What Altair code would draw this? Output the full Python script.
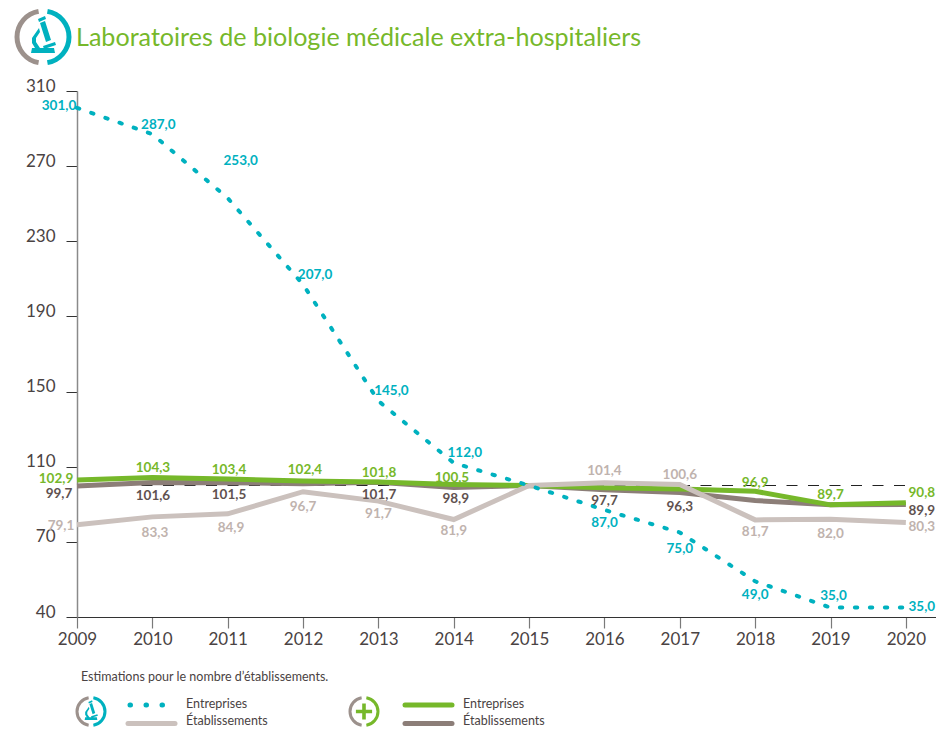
import altair as alt
import pandas as pd

FONT = "Lato"
TEAL = "#00B1BF"
GREEN = "#76B82A"
LIGHT = "#CBC1BD"
BROWN = "#8C7E78"
LIGHT_TXT = "#BFB3AE"
DARK_TXT = "#5F5250"
RING = "#9C918C"

years = [2009, 2010, 2011, 2012, 2013, 2014, 2015, 2016, 2017, 2018, 2019, 2020]
labo_entreprises = [301.0, 287.0, 253.0, 207.0, 145.0, 112.0, 100.0, 87.0, 75.0, 49.0, 35.0, 35.0]
labo_etablissements = [79.1, 83.3, 84.9, 96.7, 91.7, 81.9, 100.0, 101.4, 100.6, 81.7, 82.0, 80.3]
ens_entreprises = [102.9, 104.3, 103.4, 102.4, 101.8, 100.5, 100.0, 98.8, 98.2, 96.9, 89.7, 90.8]
ens_etablissements = [99.7, 101.6, 101.5, 100.9, 101.7, 98.9, 100.0, 97.7, 96.3, 92.0, 89.8, 89.9]

# Label offsets in pixels, per point; None means the point carries no label.
off_labo_ent = [(-18, -3), (6, -11), (13, -39), (12, -11), (13, -11), (11, -11), None, (0, 12), (0, 15), (0, 12), (3, -13), (16, -2)]
off_labo_eta = [(-16, 0), (2.6, 15), (3.3, 13), (0, 14.3), (0, 11), (0, 9.5), None, (0, -13), (0, -10.4), (0, 11), (0, 12.7), (16, 2.5)]
off_ens_ent = [(-21, -3), (0.6, -11.4), (1.3, -11), (1.9, -12), (0.6, -11), (-1.8, -7.6), None, None, None, (0, -10.3), (0, -11), (16, -10.8)]
off_ens_eta = [(-18, 6), (0.6, 12.5), (1.3, 11.3), None, (0.6, 10.7), (2, 10.4), None, (0, 9.2), (0, 13.5), None, None, (16, 5.5)]

x_scale = alt.Scale(domain=[2009, 2020.4], nice=False, zero=False)
y_scale = alt.Scale(domain=[30, 310], nice=False, zero=False)
x_enc = alt.X("year:Q", scale=x_scale, title=None,
              axis=alt.Axis(values=years, format="d", grid=False, tickSize=11, tickColor="#7A7A7A",
                            tickWidth=1.2, domainColor="#333333", domainWidth=1.2, labelFont=FONT,
                            labelFontSize=17, labelColor="#4A4343", labelPadding=3, labelFlush=False,
                            labelOverlap=False))
y_enc = alt.Y("value:Q", scale=y_scale, title=None,
              axis=alt.Axis(values=[30, 70, 110, 150, 190, 230, 270, 310], grid=False, tickSize=11,
                            tickColor="#333333", tickWidth=1, domainColor="#8A8A8A", domainWidth=1.5,
                            labelFont=FONT, labelFontSize=17, labelColor="#4A4343", labelPadding=11,
                            labelOffset=-5, labelExpr="datum.value == 30 ? '40' : datum.label"))


def frame(values):
    return pd.DataFrame({"year": years, "value": values})


def line(values, color, **kw):
    return alt.Chart(frame(values)).mark_line(color=color, strokeWidth=kw.pop("strokeWidth", 5), **kw).encode(
        x=alt.X("year:Q", scale=x_scale), y=alt.Y("value:Q", scale=y_scale))


def labels(values, offsets, color, weight=700):
    out = []
    for yr, val, off in zip(years, values, offsets):
        if off is None:
            continue
        row = pd.DataFrame({"year": [yr], "value": [val], "txt": [f"{val:.1f}".replace(".", ",")]})
        out.append(alt.Chart(row).mark_text(color=color, font=FONT, fontSize=13.5, fontWeight=weight,
                                            align="center", baseline="middle", dx=off[0], dy=off[1] + 1.5).encode(
            x=alt.X("year:Q", scale=x_scale), y=alt.Y("value:Q", scale=y_scale), text="txt:N"))
    return out


one = pd.DataFrame({"a": [0]})


def at(x, y):
    # page pixels -> plot-area pixels
    return {"x": alt.value(x - 77), "y": alt.value(y - 91)}


def ring(cx, cy, r, w, color_left, color_right, gap):
    tau = 6.28318
    left = alt.Chart(one).mark_arc(theta=tau / 2 + gap, theta2=tau - gap, radius=r, radius2=r - w,
                                   color=color_left).encode(**at(cx, cy))
    right = alt.Chart(one).mark_arc(theta=gap, theta2=tau / 2 - gap, radius=r, radius2=r - w,
                                    color=color_right).encode(**at(cx, cy))
    return [left, right]


scope_parts = [
    [(-5, -18), (2, -21), (3, -18), (-4, -15)],
    [(-3, -14), (2, -16), (8, 3), (3, 5)],
    [(0, 9), (12, 5), (13, 8), (1, 12)],
    [(-4, -9), (-3, -5), (-7, 1), (-7, 5), (-3, 11), (-8, 11), (-11, 6), (-11, 1)],
    [(-11, 11), (11, 11), (12, 16), (-12, 16)],
]
scope_path = " ".join("M" + " L".join(f"{a} {b}" for a, b in part) + " Z" for part in scope_parts)
plus_path = "M-2 -9 L2 -9 L2 -2 L9 -2 L9 2 L2 2 L2 9 L-2 9 L-2 2 L-9 2 L-9 -2 L-2 -2 Z"


def glyph(path, cx, cy, scale, color):
    return alt.Chart(one).mark_point(shape=path, size=4 * scale * scale, filled=True, color=color,
                                     opacity=1, strokeWidth=0).encode(**at(cx, cy))


def note(text, x, y, size=12.5, color="#4A4343", **kw):
    return alt.Chart(one).mark_text(text=text, font=FONT, fontSize=size, color=color, align="left",
                                    baseline="middle", **kw).encode(**at(x, y))


def key(x1, x2, y, color, **kw):
    p = at(x1, y)
    return alt.Chart(one).mark_rule(color=color, strokeWidth=5, strokeCap="round", **kw).encode(
        x=p["x"], x2=alt.value(x2 - 77), y=p["y"])


DOTS = [2.4, 12.6]

axes = alt.Chart(frame(labo_entreprises)).mark_line(opacity=0).encode(x=x_enc, y=y_enc)
ref = alt.Chart(one).mark_rule(color="#222222", strokeWidth=1, strokeDash=[11, 10.5]).encode(
    x=alt.datum(2009, scale=x_scale), x2=alt.datum(2020.07), y=alt.datum(100, scale=y_scale))

layers = [axes, ref,
          line(ens_etablissements, BROWN),
          line(ens_entreprises, GREEN),
          line(labo_etablissements, LIGHT),
          line(labo_entreprises, TEAL, strokeWidth=4, strokeDash=DOTS, strokeCap="round")]
layers += labels(ens_etablissements, off_ens_eta, DARK_TXT)
layers += labels(ens_entreprises, off_ens_ent, GREEN)
layers += labels(labo_etablissements, off_labo_eta, LIGHT_TXT)
layers += labels(labo_entreprises, off_labo_ent, TEAL)

layers += ring(43, 37, 28.5, 5, RING, TEAL, 0.17)
layers += [glyph(scope_path, 43, 37, 1, TEAL)]
layers += ring(91, 711.5, 15.5, 3, RING, TEAL, 0.17)
layers += [glyph(scope_path, 91, 711.5, 0.53, TEAL)]
layers += ring(364, 711.5, 15.5, 3, RING, GREEN, 0.17)
layers += [glyph(plus_path, 364, 711.5, 0.9, GREEN)]

layers += [note("Laboratoires de biologie médicale extra-hospitaliers", 76, 37.5, size=25.1, color=GREEN),
           note("Estimations pour le nombre d’établissements.", 81, 677),
           note("Entreprises", 186, 704), note("Établissements", 186, 721),
           note("Entreprises", 463, 704), note("Établissements", 463, 721),
           key(130, 176, 705, TEAL, strokeDash=[0.5, 15.5]),
           key(128, 175, 723.5, LIGHT),
           key(405, 452, 705, GREEN),
           key(405, 452, 723.5, BROWN)]

chart = alt.layer(*layers).properties(
    width=859, height=526,
    padding={"left": 69, "top": 83, "right": 0, "bottom": 110},
    autosize=alt.AutoSizeParams(type="none"),
).configure_view(stroke=None).resolve_scale(x="shared", y="shared")

chart.save("out.html", embed_options={"renderer": "svg", "actions": False})
